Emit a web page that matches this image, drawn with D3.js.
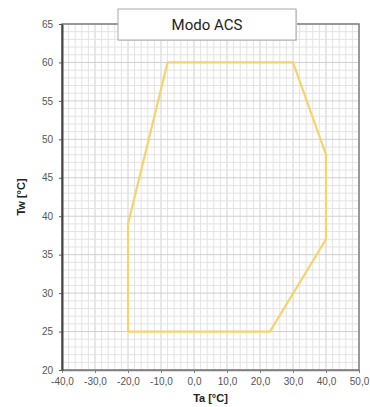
<!DOCTYPE html>
<html>
<head>
<meta charset="utf-8">
<script src="https://cdn.jsdelivr.net/npm/d3@7/dist/d3.min.js"></script>
<style>
  html, body { margin: 0; padding: 0; background: #fff; }
  svg { display: block; }
</style>
</head>
<body>
<svg id="chart" width="370" height="407"></svg>
<script>
// Operating envelope for DHW mode: ambient temperature (Ta) vs water temperature (Tw)
const envelopeTa = [-20, 23, 40, 40, 30, -8, -20, -20];
const envelopeTw = [25, 25, 37, 48, 60, 60, 39, 25];

const xTicks = [-40, -30, -20, -10, 0, 10, 20, 30, 40, 50];
const yTicks = [20, 25, 30, 35, 40, 45, 50, 55, 60, 65];

const titleText = "Modo ACS";
const xLabel = "Ta [°C]";
const yLabel = "Tw [°C]";

const svg = d3.select("#chart");
const margin = { left: 62, top: 24, right: 11, bottom: 37 };
const W = 370, H = 407;

const x = d3.scaleLinear().domain([-40, 50]).range([margin.left, W - margin.right]);
const y = d3.scaleLinear().domain([20, 65]).range([H - margin.bottom, margin.top]);

// Grid: fine lines every 2 °C (x) / 1 °C (y), stronger on labelled ticks
const grid = svg.append("g");
grid.selectAll("line.mx").data(d3.range(-40, 50.01, 2)).join("line")
  .attr("x1", d => x(d)).attr("x2", d => x(d))
  .attr("y1", y(20)).attr("y2", y(65))
  .attr("stroke", d => d % 10 === 0 ? "#cfcfcf" : "#e3e3e3").attr("stroke-width", 1);
grid.selectAll("line.my").data(d3.range(20, 65.01, 1)).join("line")
  .attr("y1", d => y(d)).attr("y2", d => y(d))
  .attr("x1", x(-40)).attr("x2", x(50))
  .attr("stroke", d => d % 5 === 0 ? "#cfcfcf" : "#e3e3e3").attr("stroke-width", 1);

// Frame (top, right, bottom in gray; left axis darker)
svg.append("rect")
  .attr("x", x(-40)).attr("y", y(65))
  .attr("width", x(50) - x(-40)).attr("height", y(20) - y(65))
  .attr("fill", "none").attr("stroke", "#808080").attr("stroke-width", 1.5);

// Comma decimal, plain hyphen for negatives
const fmtTa = d => d.toFixed(1).replace(".", ",");

// Bottom axis
const xAxis = svg.append("g")
  .attr("transform", `translate(0,${y(20)})`)
  .call(d3.axisBottom(x).tickValues(xTicks).tickSize(3).tickSizeOuter(0).tickFormat(fmtTa));
xAxis.select(".domain").attr("stroke", "#808080").attr("stroke-width", 1.5);
xAxis.selectAll(".tick line").attr("stroke", "#808080");
xAxis.selectAll("text").attr("fill", "#555").attr("font-size", 10)
  .attr("font-family", "Liberation Sans, Arial, sans-serif").attr("dy", "0.9em");

// Left axis
const yAxis = svg.append("g")
  .attr("transform", `translate(${x(-40)},0)`)
  .call(d3.axisLeft(y).tickValues(yTicks).tickSize(3).tickSizeOuter(0));
yAxis.select(".domain").attr("stroke", "#444").attr("stroke-width", 2);
yAxis.selectAll(".tick line").attr("stroke", "#555");
yAxis.selectAll("text").attr("fill", "#555").attr("font-size", 10)
  .attr("font-family", "Liberation Sans, Arial, sans-serif").attr("dx", "-0.3em");

// Envelope outline
const pts = envelopeTa.map((t, i) => [t, envelopeTw[i]]);
svg.append("path")
  .datum(pts)
  .attr("d", d3.line().x(d => x(d[0])).y(d => y(d[1])))
  .attr("fill", "none").attr("stroke", "#f7d36c").attr("stroke-width", 2.2)
  .attr("stroke-linejoin", "miter");

// Axis titles
svg.append("text")
  .attr("x", (x(-40) + x(50)) / 2).attr("y", 402)
  .attr("text-anchor", "middle").attr("font-size", 11).attr("font-weight", "bold")
  .attr("font-family", "Liberation Sans, Arial, sans-serif").attr("fill", "#222")
  .text(xLabel);
svg.append("text")
  .attr("transform", `translate(25,${(y(20) + y(65)) / 2}) rotate(-90)`)
  .attr("text-anchor", "middle").attr("font-size", 11).attr("font-weight", "bold")
  .attr("font-family", "Liberation Sans, Arial, sans-serif").attr("fill", "#222")
  .text(yLabel);

// Title box
const tb = { x: 118, y: 9, w: 178, h: 31 };
svg.append("rect")
  .attr("x", tb.x + 1).attr("y", tb.y + 1).attr("width", tb.w).attr("height", tb.h)
  .attr("fill", "#d8d8d8");
svg.append("rect")
  .attr("x", tb.x).attr("y", tb.y).attr("width", tb.w).attr("height", tb.h)
  .attr("fill", "#fff").attr("stroke", "#aaa").attr("stroke-width", 1);
svg.append("text")
  .attr("x", tb.x + tb.w / 2).attr("y", tb.y + tb.h / 2 + 5)
  .attr("text-anchor", "middle").attr("font-size", 15)
  .attr("font-family", "Roboto, 'Open Sans', sans-serif").attr("fill", "#222")
  .text(titleText);
</script>
</body>
</html>
